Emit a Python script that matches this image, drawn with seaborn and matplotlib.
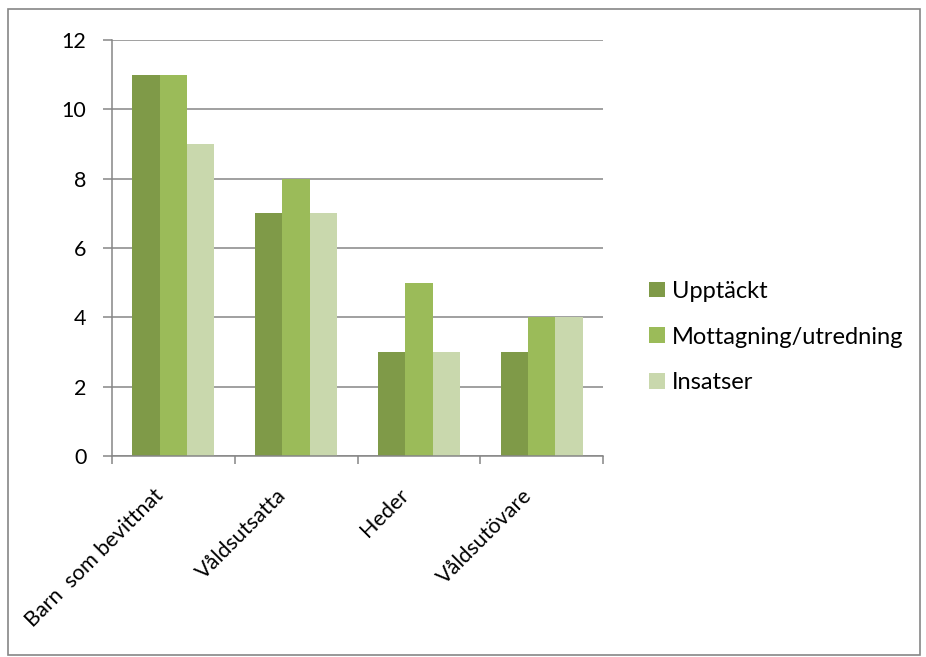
import numpy as np
import matplotlib
matplotlib.use('Agg')
import matplotlib.pyplot as plt
import matplotlib.transforms as mtransforms
import seaborn as sns
import pandas as pd
from matplotlib.patches import Rectangle

# data
categories = ['Barn  som bevittnat', 'Våldsutsatta', 'Heder', 'Våldsutövare']
series = ['Upptäckt', 'Mottagning/utredning', 'Insatser']
upptackt = [11, 7, 3, 3]
mottagning = [11, 8, 5, 4]
insatser = [9, 7, 3, 4]
yticks = [0, 2, 4, 6, 8, 10, 12]

colors = ['#7f9a48', '#9bbb59', '#c9d8ad']

df = pd.DataFrame({
    'kategori': categories * 3,
    'serie': [series[0]] * 4 + [series[1]] * 4 + [series[2]] * 4,
    'antal': upptackt + mottagning + insatser,
})

sns.set_theme(style='white')
plt.rcParams['font.family'] = ['Lato', 'DejaVu Sans']
plt.rcParams['text.color'] = 'black'
plt.rcParams['xtick.color'] = 'black'
plt.rcParams['ytick.color'] = 'black'

fs = 15.5

fig = plt.figure(figsize=(9.26, 6.57), dpi=100)
ax = fig.add_axes([112 / 926, 1 - 456 / 657, 491 / 926, 416 / 657])

sns.barplot(data=df, x='kategori', y='antal', hue='serie', palette=colors,
            width=0.667, gap=0, saturation=1, edgecolor='none', ax=ax, legend=True)

ax.set_xlim(-0.5, 3.5)
ax.set_ylim(0, 12)
ax.set_yticks(yticks)
ax.set_yticklabels([str(v) for v in yticks], fontsize=fs)
ax.set_xlabel('')
ax.set_ylabel('')

# gridlines
ax.set_axisbelow(True)
ax.yaxis.grid(True, color='#868686', linewidth=1.1)
ax.xaxis.grid(False)

for side in ['top', 'right']:
    ax.spines[side].set_visible(False)
for side in ['left', 'bottom']:
    ax.spines[side].set_color('#868686')
    ax.spines[side].set_linewidth(1.1)

ax.tick_params(axis='y', which='major', direction='out', length=6.5, width=1.1,
               color='#868686', left=True, pad=12)
# x ticks at category boundaries
ax.set_xticks(np.arange(-0.5, 4.0, 1.0), minor=True)
ax.tick_params(axis='x', which='minor', direction='out', length=5.5, width=1.1,
               color='#868686', bottom=True)
ax.tick_params(axis='x', which='major', length=0, pad=21)
ax.set_xticks(range(len(categories)))
ax.set_xticklabels(categories, rotation=45, ha='right', rotation_mode='anchor',
                   fontsize=fs)
shift = mtransforms.ScaledTranslation(-20 / 100, 0, fig.dpi_scale_trans)
for lbl in ax.get_xticklabels():
    lbl.set_transform(lbl.get_transform() + shift)

# legend to the right
handles, labels = ax.get_legend_handles_labels()
ax.get_legend().remove()
fig.legend(handles, labels, loc='center left',
           bbox_to_anchor=(628 / 926, 1 - 337 / 657), frameon=False,
           fontsize=17, handlelength=0.65, handleheight=0.65,
           handletextpad=0.3, labelspacing=1.05)

# outer frame
fig.patches.append(Rectangle((8 / 926, 2 / 657), 912 / 926, 646 / 657,
                             transform=fig.transFigure, fill=False,
                             edgecolor='#868686', linewidth=1.2))

plt.savefig('out.png', dpi=100)
